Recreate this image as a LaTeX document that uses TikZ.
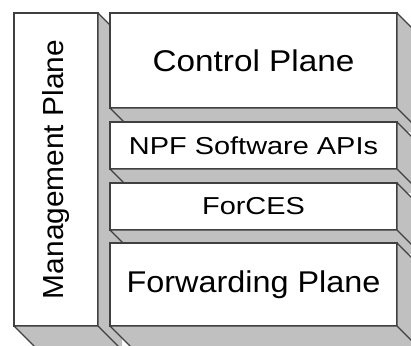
\documentclass[tikz,border=0pt]{standalone}
\usepackage{fontspec}
\setmainfont{Liberation Sans}
\definecolor{edgecol}{HTML}{404040}
\definecolor{sidecol}{HTML}{C0C0C0}
\newcommand{\bigtxt}{\fontsize{30}{32}\selectfont}
\newcommand{\mgtxt}{\fontsize{29}{31}\selectfont}
\newcommand{\smalltxt}{\fontsize{24.5}{27}\selectfont}
% #1 name, #2 x1, #3 y1, #4 x2, #5 y2, #6 text
\newcommand{\slab}[6]{%
  \node[face, minimum width={(#4-#2)*1pt}, minimum height={(#5-#3)*1pt}] (#1) at (#2,#3) {#6};
  \fill[sidecol] (#4,#3) -- ({#4+24},{#3+24}) -- ({#4+24},{#5+24})
    -- ({#2+24},{#5+24}) -- (#2,#5) -- (#4,#5) -- cycle;
  \draw[rim] (#1.north east) -- ({#4+24},{#3+24})
             (#1.south east) -- ({#4+24},{#5+24})
             (#1.south west) -- ({#2+24},{#5+24})
             (#1.north east) -- (#1.south east) -- (#1.south west);
}
\begin{document}
\begin{tikzpicture}[x=1pt,y=-1pt,
  face/.style={draw=edgecol, line width=1.2pt, fill=white, inner sep=0pt,
    outer sep=0pt, anchor=north west, align=center},
  rim/.style={draw=edgecol, line width=1.2pt}]
\useasboundingbox (0,0) rectangle (411,345);
\clip (0,0) rectangle (411,345);
\fill[white] (0,0) rectangle (411,345);

\slab{mgmt}{14}{13}{98}{326}{\rotatebox{90}{\mgtxt\scalebox{1.03}[1]{Management Plane}}}
\slab{ctrl}{110}{13}{397}{108}{\bigtxt\scalebox{1.11}[1]{Control Plane}}
\slab{npf}{110}{122}{397}{169}{\smalltxt\scalebox{1.18}[1]{NPF Software APIs}}
\slab{forces}{110}{183}{397}{230}{\smalltxt\scalebox{1.18}[1]{ForCES}}
\slab{fwd}{110}{243}{397}{326}{\bigtxt\scalebox{1.08}[1]{Forwarding Plane}}
\end{tikzpicture}
\end{document}
